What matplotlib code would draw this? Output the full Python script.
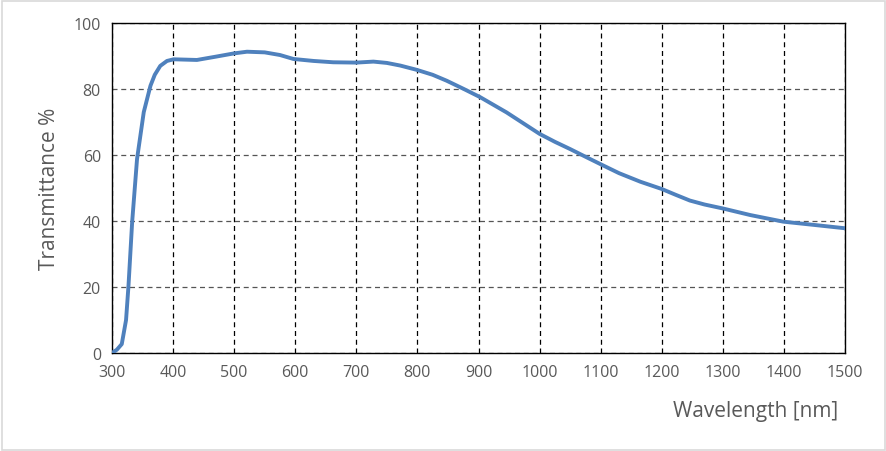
import matplotlib
matplotlib.use("Agg")
import matplotlib.pyplot as plt
from matplotlib.patches import Rectangle

# values
wavelength = [300, 308, 316, 323, 327, 333, 341, 352, 363, 370, 379, 390, 401,
              420, 439, 470, 500, 521, 550, 575, 597, 630, 662, 700, 728, 750,
              772, 799, 825, 848, 876, 903, 946, 1000, 1025, 1050, 1077, 1100,
              1130, 1165, 1200, 1222, 1246, 1270, 1300, 1345, 1399, 1450, 1500]
transmittance = [0.0, 1.0, 2.7, 10.0, 20.4, 39.7, 58.8, 73.0, 81.0, 84.3, 87.0,
                 88.5, 89.0, 88.9, 88.8, 89.8, 90.8, 91.3, 91.1, 90.3, 89.1,
                 88.5, 88.1, 88.0, 88.3, 87.9, 87.1, 85.8, 84.3, 82.5, 80.0,
                 77.5, 72.9, 66.4, 64.0, 61.8, 59.3, 57.2, 54.5, 51.9, 49.7,
                 48.0, 46.2, 45.0, 43.8, 41.8, 39.8, 38.8, 37.8]

x_ticks = list(range(300, 1501, 100))
y_ticks = list(range(0, 101, 20))

text_color = "#595959"
plt.rcParams["font.family"] = ["Open Sans", "DejaVu Sans"]

fig = plt.figure(figsize=(8.87, 4.52), dpi=100)
ax = fig.add_axes([112 / 887, 1 - 354 / 452, (845 - 112) / 887, (354 - 24) / 452])

ax.plot(wavelength, transmittance, color="#4F81BD", lw=2.8,
        solid_capstyle="round", solid_joinstyle="round", zorder=3)

ax.set_xlim(300, 1500)
ax.set_ylim(0, 100)
ax.set_xticks(x_ticks)
ax.set_yticks(y_ticks)
ax.tick_params(length=0, labelsize=11.5, labelcolor=text_color, pad=8)

ax.grid(axis="x", color="black", ls=(0, (4, 3)), lw=0.9)
ax.grid(axis="y", color="#555555", ls=(0, (4, 3)), lw=0.9)
for s in ax.spines.values():
    s.set_color("black")
    s.set_linewidth(1.0)

ax.set_ylabel("Transmittance %", fontsize=15, color=text_color, labelpad=10)
fig.text(838 / 887, 1 - 412 / 452, "Wavelength [nm]", fontsize=15, color=text_color,
         ha="right", va="center")

# light border around the whole picture
fig.patches.append(Rectangle((0.002, 0.002), 0.996, 0.994, transform=fig.transFigure,
                             fill=False, edgecolor="#d9d9d9", lw=1.2))

fig.savefig("out.png", dpi=100)
